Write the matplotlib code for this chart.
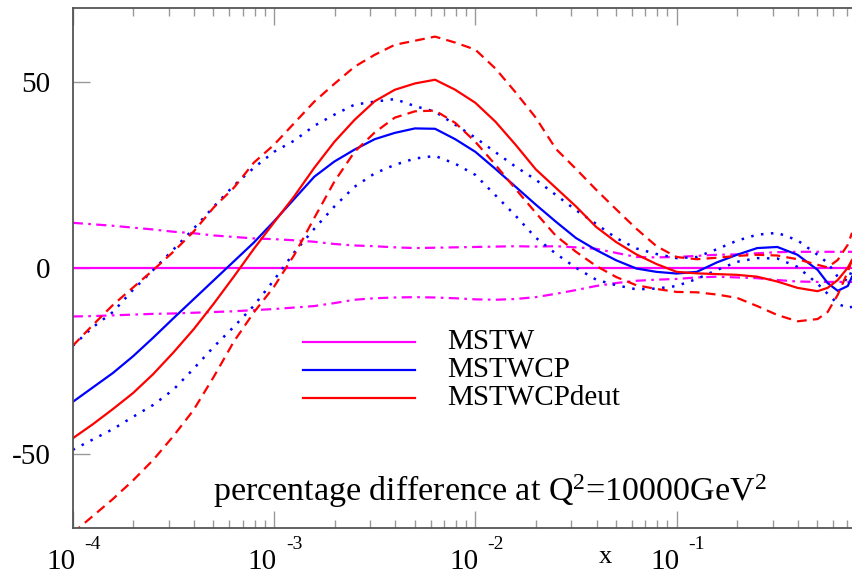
import numpy as np
import matplotlib
matplotlib.use("Agg")
import matplotlib.pyplot as plt
from matplotlib.lines import Line2D

plt.rcParams['font.family'] = ['Liberation Serif', 'DejaVu Serif']
plt.rcParams['mathtext.fontset'] = 'custom'
plt.rcParams['mathtext.rm'] = 'Liberation Serif'
plt.rcParams['mathtext.it'] = 'Liberation Serif:italic'
plt.rcParams['axes.unicode_minus'] = False

# log10(x) sampling positions
log_x = [-4.0, -3.9, -3.8, -3.7, -3.6, -3.5, -3.4, -3.3, -3.2, -3.1,
         -3.0, -2.9, -2.8, -2.7, -2.6, -2.5, -2.4, -2.3, -2.2, -2.1,
         -2.0, -1.9, -1.8, -1.7, -1.6, -1.5, -1.4, -1.3, -1.2, -1.1,
         -1.0, -0.9, -0.8, -0.7, -0.6, -0.5, -0.4, -0.3, -0.25, -0.2,
         -0.15, -0.129]

# MSTW (reference) and its error band, percent
mstw = [0.0] * len(log_x)
mstw_up = [12.2, 11.8, 11.4, 10.9, 10.4, 9.8, 9.4, 8.8, 8.4, 8.0,
           7.8, 7.5, 7.1, 6.5, 6.1, 5.9, 5.6, 5.4, 5.5, 5.6,
           5.7, 5.8, 5.9, 5.8, 5.9, 5.6, 5.2, 4.1, 3.0, 2.9,
           3.0, 3.3, 3.6, 3.7, 4.0, 4.3, 4.4, 4.4, 4.4, 4.4,
           4.4, 4.4]
mstw_lo = [-13.0, -12.9, -12.7, -12.5, -12.3, -12.2, -12.0, -11.8, -11.6, -11.3,
           -11.0, -10.6, -10.2, -9.4, -8.5, -8.1, -7.9, -7.8, -7.9, -8.1,
           -8.4, -8.5, -8.3, -7.8, -6.9, -5.9, -4.8, -4.0, -3.4, -3.1,
           -2.9, -2.5, -2.3, -2.5, -2.7, -3.2, -3.6, -3.7, -3.7, -3.7,
           -3.7, -3.7]

# MSTWCP central and band
cp = [-36.0, -32.1, -28.2, -23.7, -18.7, -13.5, -8.4, -3.3, 1.8, 6.9,
      12.6, 18.6, 24.6, 28.7, 31.9, 34.7, 36.4, 37.6, 37.5, 34.7,
      31.3, 26.7, 21.9, 17.1, 12.5, 8.1, 4.9, 2.1, -0.1, -1.0,
      -1.45, -1.0, 1.55, 3.6, 5.4, 5.7, 3.6, -0.45, -4.0, -6.1,
      -4.8, -2.3]
cp_up = [-20.9, -15.9, -11.8, -5.8, -0.5, 5.0, 10.6, 16.5, 22.2, 27.0,
         31.3, 34.3, 38.3, 41.3, 44.0, 44.8, 45.5, 43.6, 42.1, 38.6,
         35.1, 31.2, 27.3, 23.8, 19.7, 15.6, 11.9, 8.1, 5.3, 3.8,
         2.7, 3.0, 5.1, 7.4, 9.0, 9.5, 7.5, 3.6, 1.4, -2.3,
         -3.4, -0.5]
cp_lo = [-48.9, -46.1, -43.3, -40.0, -36.8, -32.7, -27.1, -21.2, -15.8, -10.1,
         -3.2, 4.2, 10.6, 16.6, 21.9, 25.5, 27.8, 29.5, 30.2, 28.1,
         25.1, 19.6, 14.1, 8.2, 3.9, 0.1, -3.1, -4.6, -5.7, -5.5,
         -4.8, -2.9, -0.5, 1.7, 2.7, 2.6, 0.35, -4.2, -6.9, -9.6,
         -10.7, -10.4]

# MSTWCPdeut central and band
deut = [-45.8, -42.0, -37.9, -33.6, -28.5, -22.7, -16.5, -9.6, -2.3, 5.2,
        12.3, 19.3, 27.0, 34.0, 39.9, 44.9, 48.0, 49.7, 50.7, 48.0,
        44.5, 39.4, 33.2, 26.6, 21.6, 16.6, 11.1, 7.0, 3.7, 1.1,
        -1.0, -1.4, -1.6, -1.8, -2.3, -3.6, -5.3, -6.2, -5.3, -3.2,
        0.1, 2.2]
deut_up = [-20.9, -15.3, -9.9, -5.2, -0.5, 4.4, 9.8, 16.3, 21.6, 28.4,
           33.2, 39.0, 44.8, 49.6, 54.2, 57.4, 60.1, 61.2, 62.3, 60.7,
           58.8, 53.7, 47.3, 40.5, 32.1, 26.7, 21.1, 15.8, 10.6, 5.9,
           3.0, 2.4, 2.8, 3.3, 3.6, 3.4, 2.4, 0.9, 0.2, 2.2,
           6.3, 9.5]
deut_lo = [-71.3, -66.7, -62.1, -57.1, -51.6, -45.2, -38.2, -29.3, -19.8, -11.9,
           -5.0, 3.5, 13.5, 23.3, 31.3, 36.5, 40.5, 42.2, 42.4, 39.1,
           34.0, 27.8, 21.3, 14.9, 8.7, 4.4, 0.6, -2.4, -4.6, -5.6,
           -6.4, -6.5, -7.1, -8.0, -10.2, -12.6, -14.3, -13.7, -11.8, -7.2,
           -1.0, 2.2]

legend_labels = ["MSTW", "MSTWCP", "MSTWCPdeut"]
y_ticks = [-50, 0, 50]
y_ticklabels = ["-50", "0", "50"]
x_ticks = [1e-4, 1e-3, 1e-2, 1e-1]
x_tick_exponents = ["-4", "-3", "-2", "-1"]

MAG, BLUE, RED = "#ff00ff", "#0000ff", "#ff0000"

W, H = 852, 577
fig = plt.figure(figsize=(W / 100, H / 100), dpi=100)
left_px, right_px, top_px, bot_px = 72.7, 852.0, 8.0, 528.3
ax = fig.add_axes([left_px / W, 1 - bot_px / H, (right_px - left_px) / W,
                   (bot_px - top_px) / H])

x = 10 ** np.array(log_x)
lw = 1.6
dashdot = (0, (4.6, 2.4, 1.2, 2.4))
dashed = (0, (4.4, 2.8))
dotted = (0, (1.0, 3.0))

ax.plot(x, mstw, color=MAG, lw=lw)
ax.plot(x, mstw_up, color=MAG, lw=lw, ls=dashdot)
ax.plot(x, mstw_lo, color=MAG, lw=lw, ls=dashdot)
ax.plot(x, cp, color=BLUE, lw=lw)
ax.plot(x, cp_up, color=BLUE, lw=1.8, ls=dotted)
ax.plot(x, cp_lo, color=BLUE, lw=1.8, ls=dotted)
ax.plot(x, deut, color=RED, lw=lw)
ax.plot(x, deut_up, color=RED, lw=lw, ls=dashed)
ax.plot(x, deut_lo, color=RED, lw=lw, ls=dashed)

ax.set_xscale('log')
ax.set_xlim(1e-4, 10 ** -0.129)
ax.set_ylim(-70, 70)

ax.set_yticks(y_ticks)
ax.set_yticklabels(y_ticklabels)
ax.set_xticks(x_ticks)
ax.set_xticklabels([""] * len(x_ticks))
ax.xaxis.set_minor_locator(matplotlib.ticker.LogLocator(base=10, subs=np.arange(2, 10)))
ax.xaxis.set_minor_formatter(matplotlib.ticker.NullFormatter())
ax.yaxis.set_minor_locator(matplotlib.ticker.NullLocator())

ax.tick_params(axis='both', which='major', direction='in', length=12, width=1.0,
               color='#999999', labelsize=21, top=True, right=False)
ax.tick_params(axis='x', which='minor', direction='in', length=6, width=1.0,
               color='#999999', top=True)
ax.tick_params(axis='y', which='major', pad=16)

for side in ['left', 'top', 'bottom']:
    ax.spines[side].set_color('#555555')
    ax.spines[side].set_linewidth(1.3)
ax.spines['right'].set_visible(False)

# x tick labels: "10" with a raised exponent, as in the reference
for xt, ex in zip(x_ticks, x_tick_exponents):
    fx, _ = fig.transFigure.inverted().transform(ax.transData.transform((xt, 0)))
    fig.text(fx + 3 / W, 1 - 569 / H, "10", fontsize=21, ha='right', va='baseline')
    fig.text(fx + 12 / W, 1 - 549 / H, ex, fontsize=14, ha='left', va='baseline')

# x label
fig.text(605 / W, 1 - 557 / H, "x", fontsize=19, ha='center', va='center')

# annotation
fig.text(213 / W, 1 - 501 / H,
         r"percentage difference at Q$^{2}$=10000GeV$^{2}$",
         fontsize=24.5, ha='left', va='baseline')

# legend
rows = [342.3, 370.0, 398.3]
cols = [MAG, BLUE, RED]
for lab, py, c in zip(legend_labels, rows, cols):
    fig.add_artist(Line2D([303.3 / W, 415 / W], [1 - py / H, 1 - py / H],
                          color=c, lw=lw, transform=fig.transFigure))
    fig.text(446.7 / W, 1 - py / H, lab, fontsize=21, ha='left', va='center')

fig.savefig("out.png", dpi=100)
